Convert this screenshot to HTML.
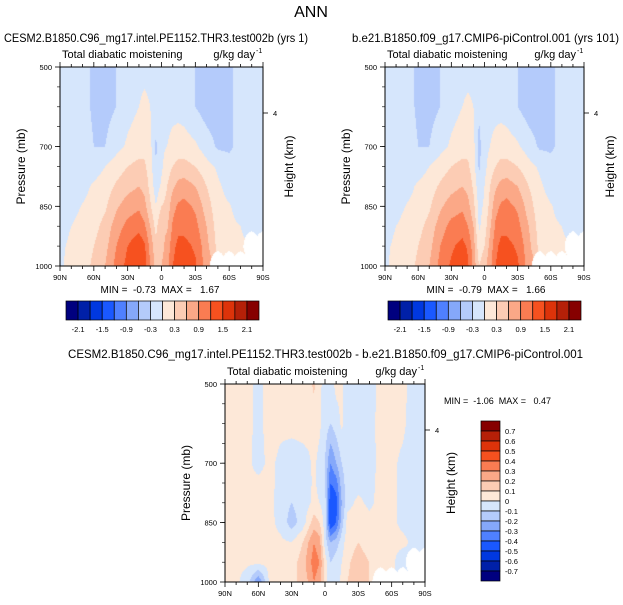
<!DOCTYPE html>
<html><head><meta charset="utf-8">
<style>
body{margin:0;background:#fff;width:623px;height:605px;position:relative;overflow:hidden;font-family:"Liberation Sans",Arial,sans-serif}
canvas{position:absolute}
svg{position:absolute;left:0;top:0}
text{white-space:pre}
</style></head><body>
<canvas id="c1" style="left:60px;top:67px" width="203" height="199"></canvas>
<canvas id="c2" style="left:385px;top:67px" width="199" height="199"></canvas>
<canvas id="c3" style="left:225px;top:384px" width="200" height="198"></canvas>
<svg id="s" width="623" height="605" font-family="Liberation Sans, Arial, sans-serif"></svg>
<script>
const lats=[90,80,70,60,50,40,30,20,15,10,5,0,-5,-10,-15,-20,-30,-40,-50,-60,-70,-80,-90];
const pres=[500,600,700,750,800,850,900,950,1000];
const d1=[
[-0.1,-0.1,-0.2,-0.35,-0.4,-0.3,-0.15,-0.1,-0.1,-0.1,-0.15,-0.1,-0.1,-0.1,-0.1,-0.15,-0.3,-0.4,-0.4,-0.35,-0.2,-0.1,-0.1],
[-0.1,-0.1,-0.2,-0.35,-0.4,-0.3,-0.1,0.0,0.08,0.0,-0.2,-0.1,-0.1,-0.1,-0.1,-0.15,-0.3,-0.45,-0.45,-0.35,-0.2,-0.1,-0.1],
[-0.1,-0.1,-0.15,-0.3,-0.3,-0.1,0.05,0.15,0.2,0.1,-0.35,-0.05,0.0,0.1,0.15,0.15,0.05,-0.15,-0.35,-0.35,-0.2,-0.1,-0.1],
[-0.1,-0.1,-0.1,-0.15,0.0,0.15,0.3,0.4,0.35,0.15,-0.3,-0.05,0.15,0.3,0.4,0.4,0.3,0.1,-0.05,-0.2,-0.15,-0.1,-0.1],
[-0.1,-0.1,-0.1,0.05,0.15,0.35,0.5,0.6,0.5,0.2,-0.15,0.05,0.3,0.55,0.7,0.75,0.6,0.3,0.05,-0.1,-0.1,-0.1,-0.1],
[-0.1,-0.1,0.02,0.1,0.25,0.55,0.75,0.85,0.7,0.35,0.0,0.3,0.4,0.8,0.95,1.0,0.85,0.45,0.1,0.02,-0.1,-0.1,-0.1],
[-0.1,0.0,0.1,0.2,0.4,0.75,1.0,1.1,0.95,0.6,0.2,0.6,0.55,0.95,1.1,1.1,1.0,0.6,0.15,0.05,0.0,-0.05,-0.1],
[-0.05,0.05,0.15,0.3,0.5,0.9,1.2,1.4,1.25,0.8,0.4,0.5,0.7,1.1,1.3,1.3,1.15,0.7,0.2,0.05,0.02,null,null],
[-0.05,0.1,0.2,0.35,0.6,1.0,1.3,1.5,1.35,0.9,0.5,0.6,0.8,1.2,1.4,1.4,1.25,0.75,null,null,null,null,null]];
const d2=[
[-0.1,-0.1,-0.2,-0.35,-0.4,-0.3,-0.15,-0.1,-0.1,-0.1,-0.15,-0.1,-0.1,-0.1,-0.1,-0.15,-0.3,-0.4,-0.4,-0.35,-0.2,-0.1,-0.1],
[-0.1,-0.1,-0.2,-0.35,-0.4,-0.3,-0.1,0.0,0.06,0.0,-0.25,-0.1,-0.1,-0.1,-0.1,-0.15,-0.3,-0.45,-0.45,-0.35,-0.2,-0.1,-0.1],
[-0.1,-0.1,-0.15,-0.3,-0.3,-0.1,0.05,0.15,0.2,0.1,-0.4,-0.1,0.0,0.1,0.15,0.15,0.05,-0.15,-0.35,-0.35,-0.2,-0.1,-0.1],
[-0.1,-0.1,-0.1,-0.15,0.0,0.15,0.3,0.4,0.35,0.15,-0.35,-0.1,0.15,0.3,0.4,0.4,0.3,0.1,-0.05,-0.2,-0.15,-0.1,-0.1],
[-0.1,-0.1,-0.1,0.05,0.15,0.35,0.5,0.6,0.5,0.25,-0.2,0.0,0.3,0.55,0.7,0.75,0.6,0.3,0.05,-0.1,-0.1,-0.1,-0.1],
[-0.1,-0.1,0.02,0.1,0.25,0.55,0.75,0.85,0.7,0.4,-0.1,0.05,0.4,0.8,0.95,1.0,0.85,0.45,0.1,0.02,-0.1,-0.1,-0.1],
[-0.1,0.0,0.1,0.2,0.4,0.75,1.0,1.05,0.9,0.6,-0.05,0.15,0.55,0.95,1.1,1.1,1.0,0.6,0.15,0.05,0.0,-0.05,-0.1],
[-0.05,0.05,0.15,0.3,0.5,0.9,1.15,1.3,1.15,0.75,0.1,0.3,0.7,1.1,1.3,1.3,1.15,0.7,0.2,0.05,0.02,null,null],
[-0.05,0.1,0.2,0.35,0.6,1.0,1.25,1.4,1.25,0.8,0.3,0.5,0.8,1.2,1.4,1.4,1.25,0.75,null,null,null,null,null]];
const d3=[
[0.05,0.05,0.03,-0.03,0.05,0.03,0.04,0.05,0.06,0.12,0.03,-0.05,-0.05,0.03,0.02,-0.05,-0.05,-0.05,0.03,0.03,0.03,-0.05,-0.05],
[0.05,0.05,0.03,-0.03,0.04,0.02,0.03,0.03,0.04,0.05,0.02,-0.05,-0.1,-0.05,0.02,-0.05,-0.05,-0.03,0.03,0.03,0.02,-0.05,-0.05],
[0.05,0.03,0.02,-0.03,0.02,-0.02,-0.05,-0.03,-0.02,0.02,-0.03,-0.1,-0.3,-0.2,-0.1,-0.05,-0.05,-0.03,0.02,0.02,-0.02,-0.05,-0.05],
[0.05,0.02,0.02,0.02,0.03,-0.03,-0.03,-0.03,-0.03,0.02,-0.03,-0.1,-0.4,-0.35,-0.15,-0.05,-0.03,-0.03,0.03,0.02,-0.02,-0.03,-0.05],
[0.05,0.02,0.02,0.02,0.03,-0.05,-0.1,-0.05,-0.02,0.03,0.0,-0.05,-0.5,-0.45,-0.2,-0.03,0.02,-0.02,0.03,0.02,-0.02,-0.03,-0.05],
[0.05,0.02,0.02,0.03,0.03,-0.03,-0.15,-0.05,0.05,0.15,0.1,-0.05,-0.5,-0.4,-0.15,0.03,0.05,0.03,0.03,0.02,-0.02,-0.03,-0.05],
[0.05,0.02,0.02,0.02,0.03,0.02,0.0,0.1,0.2,0.3,0.25,-0.05,-0.2,-0.15,-0.05,0.05,0.1,0.05,0.02,0.02,0.02,-0.02,-0.02],
[0.05,0.02,0.02,0.03,0.03,0.03,0.05,0.15,0.25,0.35,0.3,0.05,-0.1,-0.05,0.0,0.08,0.15,0.1,0.05,0.02,-0.05,null,null],
[0.03,0.02,-0.05,-0.3,0.02,0.03,0.05,0.15,0.2,0.3,0.25,0.05,-0.1,-0.05,0.02,0.1,0.15,0.1,null,null,null,null,null]];
const colors=["#00007f","#0020a8","#0038e0","#1a58ff","#4f80ff","#85a8fa","#b4cbfb","#d6e6fc","#fde8d8","#fcccb4","#fba887","#fa7c52","#f6511f","#dd330a","#b52008","#860000"];
const labs12=["-2.1","-1.5","-0.9","-0.3","0.3","0.9","1.5","2.1"];
const labs3=["0.7","0.6","0.5","0.4","0.3","0.2","0.1","0","-0.1","-0.2","-0.3","-0.4","-0.5","-0.6","-0.7"];
const xTicks=["90N","60N","30N","0","30S","60S","90S"];
const yTicks=[500,700,850,1000];

function seg(arr,v){
  const dec=arr[0]>arr[arr.length-1];
  for(let i=0;i<arr.length-1;i++){
    const a=arr[i],b=arr[i+1];
    if(dec? (v<=a&&v>=b):(v>=a&&v<=b)) return [i,(v-a)/(b-a)];
  }
  return [arr.length-2,1];
}
function render(id,data,step){
  const c=document.getElementById(id),ctx=c.getContext('2d');
  const W=c.width,H=c.height;
  for(let py=0;py<H;py++){
    const p=500+500*(py+0.5)/H;const [j,fy]=seg(pres,p);
    for(let px=0;px<W;px++){
      const lat=90-180*(px+0.5)/W;const [i,fx]=seg(lats,lat);
      const a=data[j][i],b=data[j][i+1],cc=data[j+1][i],dd=data[j+1][i+1];
      const near=[[a,(1-fx)*(1-fy)],[b,fx*(1-fy)],[cc,(1-fx)*fy],[dd,fx*fy]];
      let miss=false;near.forEach(q=>{if(q[0]===null&&q[1]>0.25)miss=true;});
      if(miss){ctx.fillStyle='#fff';ctx.fillRect(px,py,1,1);continue;}
      let s=0,w=0;near.forEach(q=>{if(q[0]!==null){s+=q[0]*q[1];w+=q[1];}});
      const v=s/w;let k=Math.floor(v/step)+8;k=Math.max(0,Math.min(15,k));
      ctx.fillStyle=colors[k];ctx.fillRect(px,py,1,1);
    }
  }
}
render('c1',d1,0.3);render('c2',d2,0.3);render('c3',d3,0.1);

const S=document.getElementById('s');const NS='http://www.w3.org/2000/svg';
function el(t,at,txt){const e=document.createElementNS(NS,t);for(const k in at)e.setAttribute(k,at[k]);if(txt!==undefined)e.textContent=txt;S.appendChild(e);return e;}
function text(x,y,s,size,anchor,name,rot,len){const e=el('text',{x:x,y:y,'font-size':size,'text-anchor':anchor||'start',fill:'#000'},s);


if(len){e.setAttribute('textLength',len);e.setAttribute('lengthAdjust','spacingAndGlyphs');}
if(rot)e.setAttribute('transform','rotate(-90 '+x+' '+y+')');return e;}
function axes(x0,y0,W,H,tag){
  const f=el('rect',{x:x0,y:y0,width:W,height:H,fill:'none',stroke:'#000','stroke-width':1});
  
  
  for(let k=0;k<=18;k++){const x=x0+W*k/18;const L=(k%3==0)?5:3;
    el('line',{x1:x,y1:y0+H,x2:x,y2:y0+H+L,stroke:'#000','stroke-width':0.8});
    el('line',{x1:x,y1:y0,x2:x,y2:y0-L,stroke:'#000','stroke-width':0.8});
    if(k%3==0)text(x,y0+H+14,xTicks[k/3],7.5,'middle',tag+'-x-tick-label');}
  yTicks.forEach(p=>{const y=y0+H*(p-500)/500;
    el('line',{x1:x0,y1:y,x2:x0-5,y2:y,stroke:'#000','stroke-width':0.8});
    text(x0-8,y+3,String(p),7.5,'end',tag+'-y-tick-label');});
  for(let p=550;p<1000;p+=50){const y=y0+H*(p-500)/500;el('line',{x1:x0,y1:y,x2:x0-3,y2:y,stroke:'#000','stroke-width':0.6});}
  const hy=y0+46;el('line',{x1:x0+W,y1:hy,x2:x0+W+5,y2:hy,stroke:'#000','stroke-width':0.8});
  text(x0+W+10,hy+3,'4',7.5,'start',tag+'-height-tick-label');
  text(x0+2,y0-9,'Total diabatic moistening',11,'start',tag+'-subtitle');
  text(x0+W-8,y0-9,'g/kg day',11,'end',tag+'-units');
  text(x0+W-7,y0-14,'-1',7,'start',tag+'-units-exp');
  text(x0-35,y0+H/2,'Pressure (mb)',12,'middle',tag+'-y-axis-title',true);
  text(x0+W+30,y0+H/2,'Height (km)',12,'middle',tag+'-right-axis-title',true);
}
function hbar(x0,y0,W,H,tag){
  const bw=W/16;
  for(let k=0;k<16;k++){const r=el('rect',{x:x0+k*bw,y:y0,width:bw,height:H,fill:colors[k],stroke:'#000','stroke-width':0.7});
    
    }
  for(let k=0;k<8;k++)text(x0+bw*(1+2*k),y0+H+12,labs12[k],7.5,'middle',tag+'-colorbar-label');
}
text(311,17,'ANN',16,'middle','main-title');
text(4,42,'CESM2.B1850.C96_mg17.intel.PE1152.THR3.test002b (yrs 1)',12,'start','left-panel-title',false,304);
text(352,42,'b.e21.B1850.f09_g17.CMIP6-piControl.001 (yrs 101)',12,'start','right-panel-title',false,267);
axes(60,67,203,199,'left');axes(385,67,199,199,'right');axes(225,384,200,198,'diff');
text(160,293,'MIN =  -0.73  MAX =   1.67',10,'middle','left-min-max');
text(486,293,'MIN =  -0.79  MAX =   1.66',10,'middle','right-min-max');
hbar(66,301,193,19,'left');hbar(388,301,193,19,'right');
text(68,358,'CESM2.B1850.C96_mg17.intel.PE1152.THR3.test002b - b.e21.B1850.f09_g17.CMIP6-piControl.001',11.5,'start','difference-title',false,515);
text(444,404,'MIN =  -1.06  MAX =   0.47',9,'start','diff-min-max');
for(let k=0;k<16;k++){const r=el('rect',{x:481,y:421+k*10,width:19,height:10,fill:colors[15-k],stroke:'#000','stroke-width':0.7});
  
  }
for(let k=0;k<15;k++)text(505,434+k*10,labs3[k],7.5,'start','diff-colorbar-label');
</script>
</body></html>
